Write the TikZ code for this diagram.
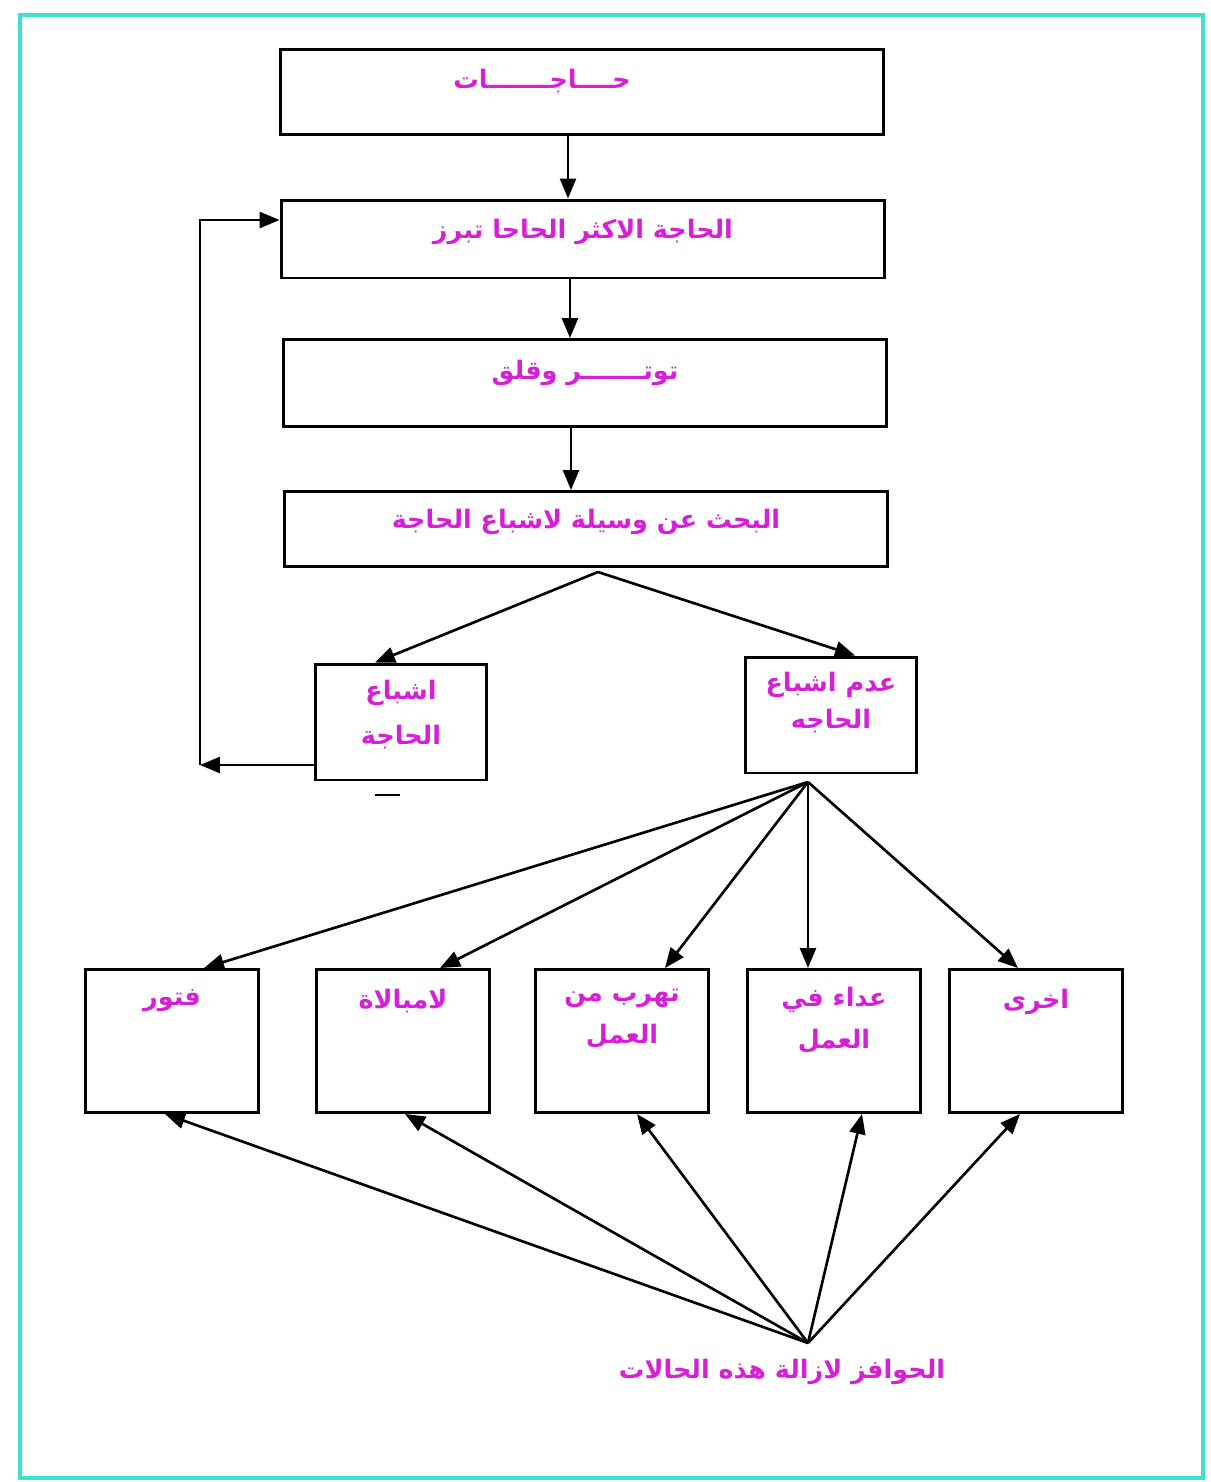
\documentclass[tikz,border=0pt]{standalone}
\usepackage{fontspec}
\usetikzlibrary{positioning, calc, arrows.meta}
\newfontfamily\arabicfont[Script=Arabic]{DejaVu Sans}
\TeXXeTstate=1
\definecolor{pinktxt}{RGB}{214,32,214}
\definecolor{frametq}{RGB}{64,224,208}
\newcommand{\artxt}[1]{\beginR #1\endR}

\begin{document}
\begin{tikzpicture}[x=0.02cm, y=-0.02cm,
    block/.style={draw, line width=1.7pt, minimum width=12.08cm, minimum height=1.6cm},
    smallbox/.style={draw, line width=1.7pt, minimum width=3.44cm, minimum height=2.32cm},
    casebox/.style={draw, line width=1.7pt, minimum width=3.46cm, minimum height=2.86cm},
    tag/.style={text=pinktxt, inner sep=0pt, align=center,
        font=\arabicfont\bfseries\fontsize{14.5}{24}\selectfont},
    arr/.style={->, line width=1.5pt},
    >={Triangle[length=0.4cm, width=0.32cm]}]
    \useasboundingbox (0,0) rectangle (1211,1482);
    \draw[frametq, line width=2.8pt] (20,15) rectangle (1203,1478);

    % main chain
    \node[block, minimum height=1.7cm] (needs) at (582,92) {};
    \node[tag, below=0.42cm of needs.north, xshift=-0.8cm] (needsT) {\artxt{حــــاجـــــــات}};
    \node[block, minimum height=1.56cm] (urgent) at (583,239) {};
    \node[tag, below=0.4cm of urgent.north] (urgentT) {\artxt{الحاجة الاكثر الحاحا تبرز}};
    \node[block, minimum height=1.74cm] (tension) at (585,383) {};
    \node[tag, below=0.44cm of tension.north] (tensionT) {\artxt{توتـــــــر وقلق}};
    \node[block, minimum height=1.5cm] (search) at (586,529) {};
    \node[tag, below=0.38cm of search.north] (searchT) {\artxt{البحث عن وسيلة لاشباع الحاجة}};

    % outcome
    \node[smallbox] (sat) at (401,722) {};
    \node[tag, below=0.34cm of sat.north, font=\arabicfont\bfseries\fontsize{14.5}{26}\selectfont] (satT) {\artxt{اشباع}\\ \artxt{الحاجة}};
    \node[smallbox] (unsat) at (831,715) {};
    \node[tag, below=0.32cm of unsat.north, font=\arabicfont\bfseries\fontsize{14.5}{21}\selectfont] (unsatT) {\artxt{عدم اشباع}\\ \artxt{الحاجه}};
    \draw[line width=1.4pt] (375,795) -- (400,795);

    % cases
    \node[casebox] (apathy) at (172,1041) {};
    \node[tag, below=0.42cm of apathy.north] (apathyT) {\artxt{فتور}};
    \node[casebox] (indiff) at (403,1041) {};
    \node[tag, below=0.42cm of indiff.north] (indiffT) {\artxt{لامبالاة}};
    \node[casebox] (escape) at (622,1041) {};
    \node[tag, below=0.42cm of escape.north] (escapeT) {\artxt{تهرب من}\\ \artxt{العمل}};
    \node[casebox] (hostile) at (834,1041) {};
    \node[tag, below=0.38cm of hostile.north] (hostileT) {\artxt{عداء في}\\ \artxt{العمل}};
    \node[casebox] (other) at (1036,1041) {};
    \node[tag, below=0.42cm of other.north] (otherT) {\artxt{اخرى}};

    \node[tag] (incent) at (782,1372) {\artxt{الحوافز لازالة هذه الحالات}};

    \coordinate (split) at (598,572);
    \coordinate (fan) at (808,782);
    \coordinate (root) at (808,1343);
    \coordinate (loopb) at (200,765);
    \coordinate (loopt) at (200,220);

    \draw[arr] ($(needs.south)+(-14,0)$) -- ($(urgent.north)+(-15,0)$);
    \draw[arr] ($(urgent.south)+(-13,0)$) -- ($(tension.north)+(-15,0)$);
    \draw[arr] ($(tension.south)+(-14,0)$) -- ($(search.north)+(-15,0)$);
    \draw[arr] (split) -- ($(sat.north)+(-26,0)$);
    \draw[arr] (split) -- ($(unsat.north)+(24,0)$);

    % feedback loop
    \draw[arr] (sat.west |- loopb) -- (loopb);
    \draw[arr] (loopb) |- (urgent.west |- loopt);

    \foreach \b/\dx in {apathy/32, indiff/37, escape/43, hostile/-26, other/-18}
        \draw[arr] (fan) -- ($(\b.north)+(\dx,0)$);
    \foreach \b/\dx in {apathy/-7, indiff/2, escape/15, hostile/28, other/-16}
        \draw[arr] (root) -- ($(\b.south)+(\dx,0)$);
\end{tikzpicture}
\end{document}
